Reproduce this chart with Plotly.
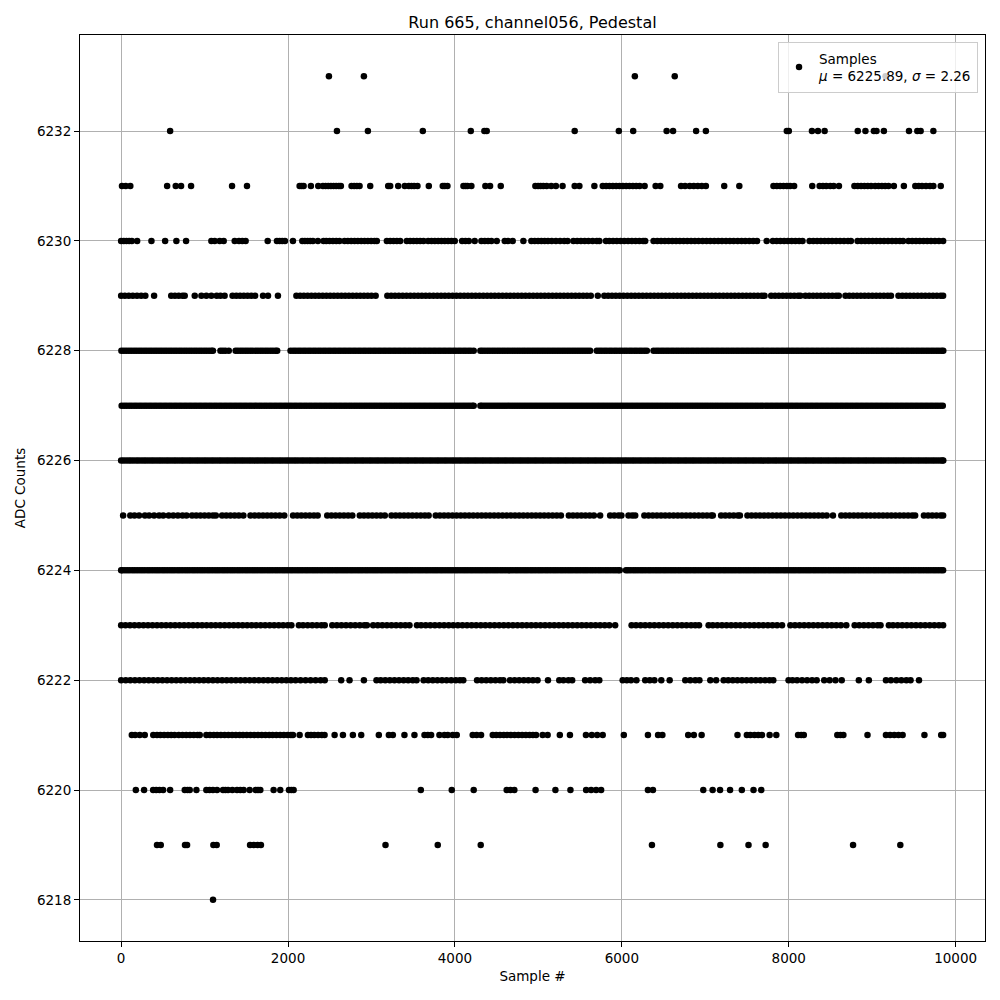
import plotly.graph_objects as go

# ---- Data: sample indices (x) for each ADC count level (y) ----
ADC_6233 = [2490, 2909, 6156, 6634, 9160]
ADC_6232 = [587, 2586, 2957, 3615, 4190, 4353, 4381, 5435, 5964, 6136, 6537, 6614, 6890, 7007,
            7977, 8001, 8278, 8350, 8430, 8827, 8919, 9020, 9052, 9140, 9441, 9541, 9581, 9733]
ADC_6231 = [10, 55, 110, 551, 654, 718, 838, 1329, 1508, 2139, 2163, 2187, 2274, 2362, 2418, 2450,
            2482, 2514, 2546, 2577, 2609, 2633, 2761, 2793, 2825, 2857, 2985, 3200, 3224, 3320, 3399,
            3447, 3479, 3511, 3551, 3687, 3854, 3878, 3910, 4102, 4126, 4150, 4197, 4365, 4421, 4549,
            4964, 4996, 5027, 5059, 5099, 5154, 5210, 5290, 5435, 5491, 5671, 5771, 5812, 5852, 5892,
            5932, 5972, 6012, 6052, 6092, 6132, 6172, 6213, 6273, 6405, 6461, 6710, 6758, 6814, 6862,
            6910, 6958, 7007, 7227, 7408, 7817, 7857, 7897, 7937, 7977, 8017, 8065, 8282, 8370, 8410,
            8450, 8498, 8538, 8602, 8787, 8827, 8867, 8907, 8947, 8987, 9036, 9076, 9116, 9156, 9196,
            9260, 9380, 9517, 9557, 9597, 9645, 9693, 9733, 9822]
ADC_6230 = [0, 32, 64, 96, 128, 192, 363, 527, 662, 778, 1081, 1121, 1181, 1229, 1361, 1412, 1452,
            1492, 1756, 1867, 1899, 1931, 1963, 2059, 2171, 2202, 2234, 2266, 2298, 2358, 2426, 2458,
            2498, 2538, 2578, 2617, 2677, 2717, 2757, 2797, 2837, 2877, 2917, 2957, 2996, 3036, 3064,
            3184, 3224, 3264, 3304, 3344, 3423, 3463, 3503, 3543, 3583, 3623, 3679, 3719, 3759, 3799,
            3838, 3878, 3918, 3958, 3998, 4086, 4126, 4166, 4237, 4317, 4357, 4397, 4437, 4501, 4597,
            4636, 4692, 4820, 4916, 4956, 4996, 5036, 5075, 5115, 5160, 5210, 5260, 5310, 5350, 5420,
            5465, 5510, 5555, 5600, 5650, 5700, 5731, 5810, 5850, 5895, 5940, 5985, 6030, 6075, 6120,
            6165, 6210, 6255, 6280, 6380, 6425, 6470, 6515, 6560, 6605, 6650, 6695, 6740, 6785, 6830,
            6875, 6920, 6968, 7015, 7060, 7108, 7155, 7200, 7248, 7295, 7340, 7388, 7435, 7480, 7528,
            7575, 7620, 7736, 7810, 7855, 7900, 7945, 7990, 8035, 8080, 8125, 8165, 8250, 8295, 8340,
            8385, 8430, 8475, 8520, 8568, 8615, 8662, 8710, 8745, 8825, 8870, 8915, 8960, 9005, 9050,
            9095, 9142, 9190, 9238, 9285, 9332, 9370, 9435, 9480, 9525, 9570, 9615, 9660, 9705, 9752,
            9800, 9850]
ADC_6229 = [0, 45, 92, 140, 190, 240, 290, 395, 600, 645, 690, 735, 762, 882, 962, 1021, 1081, 1145,
            1190, 1240, 1335, 1380, 1425, 1470, 1515, 1560, 1605, 1700, 1760, 1879, 2100, 2145, 2190,
            2235, 2280, 2325, 2370, 2415, 2460, 2505, 2550, 2595, 2640, 2685, 2730, 2775, 2820, 2865,
            2910, 2955, 3000, 3050, 3190, 3236, 3282, 3328, 3374, 3420, 3466, 3512, 3558, 3604, 3650,
            3696, 3742, 3788, 3834, 3880, 3926, 3972, 4018, 4064, 4110, 4156, 4202, 4248, 4294, 4340,
            4386, 4432, 4478, 4524, 4570, 4616, 4662, 4708, 4754, 4800, 4846, 4892, 4938, 4984, 5030,
            5076, 5122, 5168, 5214, 5260, 5306, 5352, 5398, 5444, 5490, 5536, 5582, 5628, 5712, 5790,
            5836, 5882, 5928, 5974, 6020, 6066, 6112, 6158, 6204, 6250, 6296, 6342, 6388, 6434, 6480,
            6526, 6572, 6618, 6664, 6710, 6756, 6802, 6848, 6894, 6940, 6986, 7032, 7078, 7124, 7170,
            7216, 7262, 7308, 7354, 7400, 7446, 7492, 7538, 7584, 7630, 7676, 7710, 7790, 7836, 7882,
            7928, 7974, 8020, 8066, 8112, 8140, 8200, 8246, 8292, 8338, 8384, 8430, 8476, 8522, 8568,
            8600, 8680, 8726, 8772, 8818, 8864, 8910, 8956, 9002, 9048, 9094, 9140, 9186, 9225, 9315,
            9361, 9407, 9453, 9499, 9545, 9591, 9637, 9683, 9729, 9775, 9821, 9850]
ADC_6228 = [3, 33, 62, 93, 122, 153, 182, 213, 242, 273, 302, 333, 362, 393, 422, 453, 482, 513,
            542, 573, 602, 633, 662, 693, 722, 753, 782, 813, 842, 873, 902, 933, 962, 993, 1022,
            1053, 1082, 1100, 1190, 1220, 1250, 1290, 1372, 1400, 1431, 1460, 1491, 1520, 1551, 1580,
            1611, 1640, 1671, 1700, 1731, 1760, 1791, 1820, 1851, 1870, 2030, 2061, 2090, 2121, 2150,
            2181, 2210, 2241, 2270, 2301, 2330, 2361, 2390, 2421, 2450, 2481, 2510, 2541, 2570, 2601,
            2630, 2661, 2690, 2721, 2750, 2781, 2810, 2841, 2870, 2901, 2930, 2961, 2990, 3021, 3050,
            3081, 3110, 3141, 3170, 3201, 3230, 3261, 3290, 3321, 3350, 3381, 3410, 3441, 3470, 3501,
            3530, 3561, 3590, 3621, 3650, 3681, 3710, 3741, 3770, 3801, 3830, 3861, 3890, 3921, 3950,
            3981, 4010, 4041, 4070, 4101, 4130, 4161, 4190, 4225, 4305, 4331, 4360, 4391, 4420, 4451,
            4480, 4511, 4540, 4571, 4600, 4631, 4660, 4691, 4720, 4751, 4780, 4811, 4840, 4871, 4900,
            4931, 4960, 4991, 5020, 5051, 5080, 5111, 5140, 5171, 5200, 5231, 5260, 5291, 5320, 5351,
            5380, 5411, 5440, 5471, 5500, 5531, 5560, 5591, 5620, 5700, 5731, 5760, 5791, 5820, 5851,
            5880, 5911, 5940, 5971, 6000, 6031, 6060, 6091, 6120, 6151, 6180, 6211, 6240, 6271, 6300,
            6380, 6411, 6440, 6471, 6500, 6531, 6560, 6591, 6620, 6651, 6680, 6711, 6740, 6771, 6800,
            6831, 6860, 6891, 6920, 6951, 6980, 7011, 7040, 7071, 7100, 7131, 7160, 7191, 7220, 7251,
            7280, 7311, 7340, 7371, 7400, 7431, 7460, 7491, 7520, 7551, 7580, 7611, 7640, 7671, 7700,
            7731, 7760, 7791, 7820, 7851, 7880, 7911, 7940, 7971, 8000, 8031, 8060, 8091, 8120, 8151,
            8180, 8211, 8240, 8271, 8300, 8331, 8360, 8391, 8420, 8451, 8480, 8511, 8540, 8571, 8600,
            8631, 8660, 8691, 8720, 8751, 8780, 8811, 8840, 8871, 8900, 8931, 8960, 8991, 9020, 9051,
            9080, 9111, 9140, 9171, 9200, 9231, 9260, 9291, 9320, 9351, 9380, 9411, 9440, 9471, 9500,
            9531, 9560, 9591, 9620, 9651, 9680, 9711, 9740, 9771, 9800, 9831, 9852]
ADC_6227 = [6, 37, 66, 97, 126, 157, 186, 217, 246, 277, 306, 337, 366, 397, 426, 457, 486, 517,
            546, 577, 606, 637, 666, 697, 726, 757, 786, 817, 846, 877, 906, 937, 966, 997, 1026,
            1057, 1086, 1117, 1146, 1177, 1206, 1237, 1266, 1297, 1326, 1357, 1386, 1417, 1446, 1477,
            1506, 1537, 1566, 1597, 1626, 1657, 1686, 1717, 1746, 1777, 1806, 1837, 1866, 1897, 1926,
            1957, 1986, 2017, 2046, 2077, 2106, 2137, 2166, 2197, 2226, 2257, 2286, 2317, 2346, 2377,
            2406, 2437, 2466, 2497, 2526, 2557, 2586, 2617, 2646, 2677, 2706, 2737, 2766, 2797, 2826,
            2857, 2886, 2917, 2946, 2977, 3006, 3037, 3066, 3097, 3126, 3157, 3186, 3217, 3246, 3277,
            3306, 3337, 3366, 3397, 3426, 3457, 3486, 3517, 3546, 3577, 3606, 3637, 3666, 3697, 3726,
            3757, 3786, 3817, 3846, 3877, 3906, 3937, 3966, 3997, 4026, 4057, 4086, 4117, 4146, 4177,
            4206, 4225, 4305, 4326, 4357, 4386, 4417, 4446, 4477, 4506, 4537, 4566, 4597, 4626, 4657,
            4686, 4717, 4746, 4777, 4806, 4837, 4866, 4897, 4926, 4957, 4986, 5017, 5046, 5077, 5106,
            5137, 5166, 5197, 5226, 5257, 5286, 5317, 5346, 5377, 5406, 5437, 5466, 5497, 5526, 5557,
            5586, 5617, 5646, 5677, 5706, 5737, 5766, 5797, 5826, 5857, 5886, 5917, 5946, 5977, 6006,
            6037, 6066, 6097, 6126, 6157, 6186, 6217, 6246, 6277, 6306, 6337, 6366, 6397, 6426, 6457,
            6486, 6517, 6546, 6577, 6606, 6637, 6666, 6697, 6726, 6757, 6786, 6817, 6846, 6877, 6906,
            6937, 6966, 6997, 7026, 7057, 7086, 7117, 7146, 7177, 7206, 7237, 7266, 7297, 7326, 7357,
            7386, 7417, 7446, 7477, 7506, 7537, 7566, 7597, 7626, 7657, 7686, 7717, 7746, 7777, 7806,
            7837, 7866, 7897, 7926, 7957, 7986, 8017, 8046, 8077, 8106, 8137, 8166, 8197, 8226, 8257,
            8286, 8317, 8346, 8377, 8406, 8437, 8466, 8497, 8526, 8557, 8586, 8617, 8646, 8677, 8706,
            8737, 8766, 8797, 8826, 8857, 8886, 8917, 8946, 8977, 9006, 9037, 9066, 9097, 9126, 9157,
            9186, 9217, 9246, 9277, 9306, 9337, 9366, 9397, 9426, 9457, 9486, 9517, 9546, 9577, 9606,
            9637, 9666, 9697, 9726, 9757, 9786, 9817, 9846]
ADC_6226 = [0, 28, 59, 90, 118, 149, 181, 209, 240, 271, 299, 330, 361, 389, 420, 451, 479, 510,
            541, 569, 600, 631, 659, 690, 721, 749, 780, 811, 839, 870, 901, 929, 960, 991, 1019,
            1050, 1081, 1109, 1140, 1171, 1199, 1230, 1261, 1289, 1320, 1351, 1379, 1410, 1441, 1469,
            1500, 1531, 1559, 1590, 1621, 1649, 1680, 1711, 1739, 1770, 1801, 1829, 1860, 1891, 1919,
            1950, 1981, 2009, 2040, 2071, 2099, 2130, 2161, 2189, 2220, 2251, 2279, 2310, 2341, 2369,
            2400, 2431, 2459, 2490, 2521, 2549, 2580, 2611, 2639, 2670, 2701, 2729, 2760, 2791, 2819,
            2850, 2881, 2909, 2940, 2971, 2999, 3030, 3061, 3089, 3120, 3151, 3179, 3210, 3241, 3269,
            3300, 3331, 3359, 3390, 3421, 3449, 3480, 3511, 3539, 3570, 3601, 3629, 3660, 3691, 3719,
            3750, 3781, 3809, 3840, 3871, 3899, 3930, 3961, 3989, 4020, 4051, 4079, 4110, 4141, 4169,
            4200, 4231, 4259, 4290, 4321, 4349, 4380, 4411, 4439, 4470, 4501, 4529, 4560, 4591, 4619,
            4650, 4681, 4709, 4740, 4771, 4799, 4830, 4861, 4889, 4920, 4951, 4979, 5010, 5041, 5069,
            5100, 5131, 5159, 5190, 5221, 5249, 5280, 5311, 5339, 5370, 5401, 5429, 5460, 5491, 5519,
            5550, 5581, 5609, 5640, 5671, 5699, 5730, 5761, 5789, 5820, 5851, 5879, 5910, 5941, 5969,
            6000, 6031, 6059, 6090, 6121, 6149, 6180, 6211, 6239, 6270, 6301, 6329, 6360, 6391, 6419,
            6450, 6481, 6509, 6540, 6571, 6599, 6630, 6661, 6689, 6720, 6751, 6779, 6810, 6841, 6869,
            6900, 6931, 6959, 6990, 7021, 7049, 7080, 7111, 7139, 7170, 7201, 7229, 7260, 7291, 7319,
            7350, 7381, 7409, 7440, 7471, 7499, 7530, 7561, 7589, 7620, 7651, 7679, 7710, 7741, 7769,
            7800, 7831, 7859, 7890, 7921, 7949, 7980, 8011, 8039, 8070, 8101, 8129, 8160, 8191, 8219,
            8250, 8281, 8309, 8340, 8371, 8399, 8430, 8461, 8489, 8520, 8551, 8579, 8610, 8641, 8669,
            8700, 8731, 8759, 8790, 8821, 8849, 8880, 8911, 8939, 8970, 9001, 9029, 9060, 9091, 9119,
            9150, 9181, 9209, 9240, 9271, 9299, 9330, 9361, 9389, 9420, 9451, 9479, 9510, 9541, 9569,
            9600, 9631, 9659, 9690, 9721, 9749, 9780, 9811, 9839, 9852]
ADC_6225 = [24, 110, 160, 215, 285, 335, 395, 455, 505, 570, 625, 680, 735, 783, 850, 900, 950,
            1000, 1050, 1100, 1135, 1210, 1260, 1310, 1360, 1410, 1465, 1550, 1600, 1650, 1700, 1750,
            1800, 1850, 1900, 1955, 2060, 2110, 2160, 2210, 2260, 2310, 2355, 2470, 2520, 2570, 2620,
            2670, 2720, 2770, 2860, 2910, 2960, 3010, 3060, 3110, 3160, 3240, 3290, 3340, 3390, 3440,
            3490, 3540, 3590, 3640, 3685, 3770, 3820, 3870, 3920, 3970, 4020, 4070, 4120, 4170, 4220,
            4270, 4320, 4370, 4420, 4470, 4520, 4570, 4620, 4670, 4720, 4770, 4820, 4870, 4920, 4970,
            5020, 5070, 5120, 5170, 5220, 5270, 5365, 5415, 5465, 5515, 5565, 5615, 5665, 5740, 5860,
            5910, 5960, 5995, 6080, 6125, 6160, 6270, 6320, 6370, 6420, 6470, 6520, 6570, 6620, 6670,
            6720, 6770, 6820, 6870, 6920, 6970, 7020, 7070, 7090, 7190, 7240, 7290, 7340, 7390, 7415,
            7505, 7555, 7605, 7655, 7705, 7755, 7805, 7855, 7905, 7955, 8005, 8055, 8105, 8155, 8205,
            8255, 8305, 8355, 8405, 8455, 8530, 8630, 8680, 8730, 8780, 8830, 8880, 8930, 8980, 9030,
            9080, 9130, 9180, 9230, 9280, 9330, 9380, 9430, 9480, 9515, 9620, 9670, 9720, 9770, 9820,
            9850]
ADC_6224 = [0, 14, 45, 74, 104, 135, 164, 194, 225, 254, 284, 315, 344, 374, 405, 434, 464, 495,
            524, 554, 585, 614, 644, 675, 704, 734, 765, 794, 824, 855, 884, 914, 945, 974, 1004,
            1035, 1064, 1094, 1125, 1154, 1184, 1215, 1244, 1274, 1305, 1334, 1364, 1395, 1424, 1454,
            1485, 1514, 1544, 1575, 1604, 1634, 1665, 1694, 1724, 1755, 1784, 1814, 1845, 1874, 1904,
            1935, 1964, 1994, 2025, 2054, 2084, 2115, 2144, 2174, 2205, 2234, 2264, 2295, 2324, 2354,
            2385, 2414, 2444, 2475, 2504, 2534, 2565, 2594, 2624, 2655, 2684, 2714, 2745, 2774, 2804,
            2835, 2864, 2894, 2925, 2954, 2984, 3015, 3044, 3074, 3105, 3134, 3164, 3195, 3224, 3254,
            3285, 3314, 3344, 3375, 3404, 3434, 3465, 3494, 3524, 3555, 3584, 3614, 3645, 3674, 3704,
            3735, 3764, 3794, 3825, 3854, 3884, 3915, 3944, 3974, 4005, 4034, 4064, 4095, 4124, 4154,
            4185, 4214, 4244, 4275, 4304, 4334, 4365, 4394, 4424, 4455, 4484, 4514, 4545, 4574, 4604,
            4635, 4664, 4694, 4725, 4754, 4784, 4815, 4844, 4874, 4905, 4934, 4964, 4995, 5024, 5054,
            5085, 5114, 5144, 5175, 5204, 5234, 5265, 5294, 5324, 5355, 5384, 5414, 5445, 5474, 5504,
            5535, 5564, 5594, 5625, 5654, 5684, 5715, 5744, 5774, 5805, 5834, 5864, 5895, 5924, 5954,
            5975, 6050, 6075, 6104, 6135, 6164, 6194, 6225, 6254, 6284, 6315, 6344, 6374, 6405, 6434,
            6464, 6495, 6524, 6554, 6585, 6614, 6644, 6675, 6704, 6734, 6765, 6794, 6824, 6855, 6884,
            6914, 6945, 6974, 7004, 7035, 7064, 7094, 7125, 7154, 7184, 7215, 7244, 7274, 7305, 7334,
            7364, 7395, 7424, 7454, 7485, 7514, 7544, 7575, 7604, 7634, 7665, 7694, 7724, 7755, 7784,
            7814, 7845, 7874, 7904, 7935, 7964, 7994, 8025, 8054, 8084, 8115, 8144, 8174, 8205, 8234,
            8264, 8295, 8324, 8354, 8385, 8414, 8444, 8475, 8504, 8534, 8565, 8594, 8624, 8655, 8684,
            8714, 8745, 8774, 8804, 8835, 8864, 8894, 8925, 8954, 8984, 9015, 9044, 9074, 9105, 9134,
            9164, 9195, 9224, 9254, 9285, 9314, 9344, 9375, 9404, 9434, 9465, 9494, 9524, 9555, 9584,
            9614, 9645, 9674, 9704, 9735, 9764, 9794, 9825, 9850]
ADC_6223 = [0, 52, 106, 160, 214, 268, 322, 376, 430, 484, 538, 592, 646, 700, 754, 808, 862, 916,
            970, 1024, 1078, 1132, 1186, 1240, 1294, 1348, 1402, 1456, 1510, 1564, 1618, 1672, 1726,
            1780, 1834, 1888, 1942, 1996, 2040, 2130, 2180, 2235, 2290, 2345, 2400, 2440, 2530, 2585,
            2640, 2695, 2750, 2805, 2860, 2915, 2945, 3020, 3075, 3130, 3185, 3240, 3295, 3350, 3405,
            3455, 3545, 3595, 3650, 3705, 3760, 3815, 3870, 3925, 3980, 4035, 4090, 4145, 4200, 4255,
            4310, 4365, 4420, 4475, 4530, 4585, 4640, 4695, 4750, 4805, 4860, 4915, 4970, 5025, 5080,
            5135, 5190, 5245, 5300, 5355, 5410, 5465, 5520, 5575, 5630, 5685, 5740, 5795, 5850, 5920,
            6117, 6170, 6225, 6280, 6335, 6390, 6445, 6500, 6555, 6610, 6665, 6720, 6775, 6830, 6880,
            6925, 7040, 7090, 7145, 7200, 7255, 7310, 7365, 7420, 7475, 7530, 7585, 7640, 7695, 7750,
            7805, 7860, 7920, 8020, 8075, 8130, 8185, 8240, 8295, 8350, 8405, 8460, 8515, 8570, 8625,
            8690, 8790, 8845, 8900, 8955, 9010, 9065, 9100, 9200, 9250, 9305, 9360, 9415, 9470, 9525,
            9580, 9635, 9690, 9745, 9800, 9850]
ADC_6222 = [0, 55, 110, 165, 220, 275, 330, 385, 440, 495, 550, 605, 660, 715, 770, 825, 880, 935,
            990, 1045, 1100, 1155, 1210, 1265, 1320, 1375, 1430, 1485, 1540, 1595, 1650, 1705, 1760,
            1815, 1870, 1925, 1980, 2035, 2090, 2150, 2210, 2270, 2330, 2390, 2440, 2637, 2737, 2909,
            3060, 3110, 3165, 3220, 3275, 3330, 3385, 3440, 3495, 3540, 3625, 3680, 3735, 3790, 3845,
            3900, 3955, 4010, 4060, 4100, 4265, 4320, 4375, 4430, 4485, 4540, 4580, 4660, 4715, 4770,
            4825, 4880, 4935, 4990, 5115, 5250, 5300, 5360, 5405, 5560, 5620, 5680, 5730, 6010, 6060,
            6110, 6175, 6280, 6335, 6390, 6473, 6573, 6760, 6820, 6880, 6930, 7060, 7130, 7220, 7275,
            7330, 7385, 7440, 7495, 7550, 7605, 7660, 7715, 7770, 7815, 7998, 8045, 8100, 8160, 8220,
            8280, 8335, 8425, 8490, 8560, 8635, 8840, 8960, 9165, 9225, 9290, 9350, 9410, 9460, 9561]
ADC_6221 = [128, 168, 223, 283, 385, 430, 470, 515, 560, 600, 640, 690, 735, 780, 825, 870, 915,
            942, 1021, 1065, 1110, 1150, 1195, 1240, 1285, 1330, 1375, 1420, 1460, 1505, 1550, 1595,
            1640, 1685, 1730, 1775, 1815, 1860, 1905, 1950, 1995, 2035, 2059, 2139, 2238, 2275, 2315,
            2360, 2405, 2438, 2558, 2658, 2777, 2877, 3088, 3208, 3256, 3395, 3515, 3635, 3675, 3715,
            3814, 3874, 3914, 3974, 4022, 4213, 4260, 4313, 4453, 4495, 4540, 4585, 4625, 4670, 4715,
            4760, 4805, 4850, 4895, 4935, 4972, 5051, 5111, 5257, 5378, 5570, 5640, 5705, 5771, 6024,
            6313, 6434, 6486, 6795, 6863, 6956, 7386, 7498, 7540, 7590, 7635, 7679, 7771, 7851, 8112,
            8150, 8181, 8582, 8620, 8655, 8944, 9165, 9215, 9265, 9315, 9365, 9626, 9827, 9850]
ADC_6220 = [176, 275, 383, 420, 460, 503, 587, 762, 795, 822, 902, 1021, 1060, 1100, 1149, 1221,
            1250, 1281, 1333, 1388, 1428, 1468, 1540, 1612, 1640, 1668, 1827, 1907, 2011, 2040, 2067,
            3591, 3962, 4225, 4620, 4665, 4712, 4966, 5204, 5384, 5572, 5632, 5692, 5752, 6313, 6373,
            6976, 7088, 7177, 7297, 7438, 7578, 7671]
ADC_6219 = [430, 475, 765, 790, 1105, 1145, 1545, 1590, 1635, 1675, 3168, 3794, 4309, 6361, 7181,
            7518, 7723, 8771, 9337]
ADC_6218 = [1101]

LEVELS = [6233, 6232, 6231, 6230, 6229, 6228, 6227, 6226, 6225, 6224, 6223, 6222, 6221, 6220, 6219, 6218]
SAMPLES_BY_LEVEL = [ADC_6233, ADC_6232, ADC_6231, ADC_6230, ADC_6229, ADC_6228, ADC_6227, ADC_6226,
                    ADC_6225, ADC_6224, ADC_6223, ADC_6222, ADC_6221, ADC_6220, ADC_6219, ADC_6218]

TITLE = "Run 665, channel056, Pedestal"
LEGEND_LABEL = "Samples<br><i>μ</i> = 6225.89, <i>σ</i> = 2.26"
X_TICKS = [0, 2000, 4000, 6000, 8000, 10000]
Y_TICKS = [6218, 6220, 6222, 6224, 6226, 6228, 6230, 6232]

xs, ys = [], []
for level, samples in zip(LEVELS, SAMPLES_BY_LEVEL):
    xs.extend(samples)
    ys.extend([level] * len(samples))

FONT = "DejaVu Sans, Arial, sans-serif"

fig = go.Figure()
fig.add_trace(go.Scatter(
    x=xs, y=ys, mode="markers", name=LEGEND_LABEL,
    marker=dict(color="black", size=6.5, line=dict(width=0)),
    showlegend=True,
))

axis_common = dict(
    showgrid=True, gridcolor="#b0b0b0", gridwidth=0.8,
    showline=True, linecolor="black", linewidth=1, mirror=True,
    ticks="outside", ticklen=5, tickwidth=1, tickcolor="black",
    zeroline=False, automargin=False,
    tickfont=dict(family=FONT, size=13.5, color="black"),
)

# The page body adds an 8 px offset, so margins are shifted accordingly.
fig.update_layout(
    width=1000, height=1000,
    margin=dict(l=72, r=23, t=27, b=67),
    paper_bgcolor="white", plot_bgcolor="white",
    font=dict(family=FONT, color="black"),
    title=dict(text=TITLE, x=0.5245, xanchor="center", y=0.986, yanchor="middle",
               font=dict(family=FONT, size=16, color="black")),
    xaxis=dict(range=[-493, 10352], tickvals=X_TICKS, ticktext=[str(v) for v in X_TICKS],
               title=dict(text="Sample #", font=dict(family=FONT, size=13.5), standoff=6),
               **axis_common),
    yaxis=dict(range=[6217.25, 6233.75], tickvals=Y_TICKS, ticktext=[str(v) for v in Y_TICKS],
               title=dict(text="ADC Counts", font=dict(family=FONT, size=13.5), standoff=8),
               **axis_common),
    legend=dict(x=0.9923, y=0.9923, xanchor="right", yanchor="top",
                bgcolor="rgba(255,255,255,0.8)", bordercolor="#cccccc", borderwidth=1,
                font=dict(family=FONT, size=13.5, color="black"), itemsizing="trace"),
    showlegend=True,
)

fig.write_html("out.html")
